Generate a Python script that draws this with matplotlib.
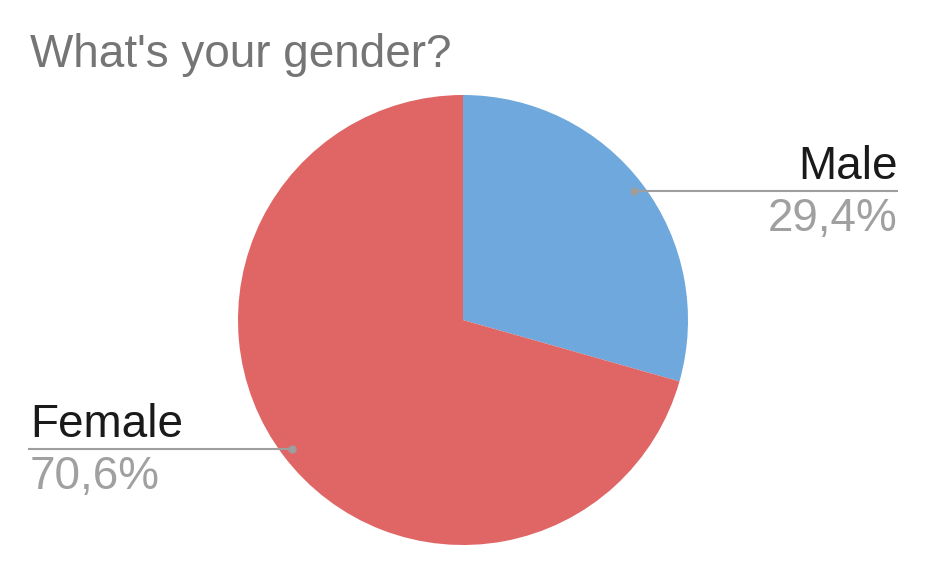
import numpy as np
import matplotlib.pyplot as plt

plt.rcParams['font.family'] = ['Liberation Sans', 'DejaVu Sans']

labels = ["Male", "Female"]
values = [29.4, 70.6]
colors = ["#6fa8dc", "#e06666"]
title = "What's your gender?"

W, H = 927, 573
fig = plt.figure(figsize=(W / 100, H / 100), dpi=100)
ax = fig.add_axes([0, 0, 1, 1])

cx, cy, r = 463, H - 320, 225
ax.pie(values, colors=colors, startangle=90, counterclock=False,
       center=(cx, cy), radius=r, wedgeprops=dict(linewidth=0))

ax.set_xlim(0, W)
ax.set_ylim(0, H)
ax.set_aspect('equal')
ax.axis('off')

fig.text(30 / W, 1 - 67 / H, title, fontsize=33, color="#757575",
         ha="left", va="baseline")

# label lines and texts
total = sum(values)
start = 90.0
line_color = "#9e9e9e"
for lab, v in zip(labels, values):
    span = 360 * v / total
    mid = np.deg2rad(start - span / 2)
    start -= span
    px = cx + 0.95 * r * np.cos(mid)
    py = cy + 0.95 * r * np.sin(mid)
    if np.cos(mid) >= 0:
        x_end = 898
        ha = "right"
    else:
        x_end = 28
        ha = "left"
    ax.plot([px, x_end], [py, py], color=line_color, lw=1.5, solid_capstyle="butt")
    ax.plot(px, py, "o", color=line_color, ms=5)
    tx = x_end + (0 if ha == "right" else 2)
    ax.text(tx, py + 12, lab, fontsize=33, color="#1a1a1a", ha=ha, va="baseline")
    ax.text(tx, py - 40, f"{v:.1f}%".replace(".", ","), fontsize=33,
            color="#a0a0a0", ha=ha, va="baseline")

fig.savefig("out.png", dpi=100)
